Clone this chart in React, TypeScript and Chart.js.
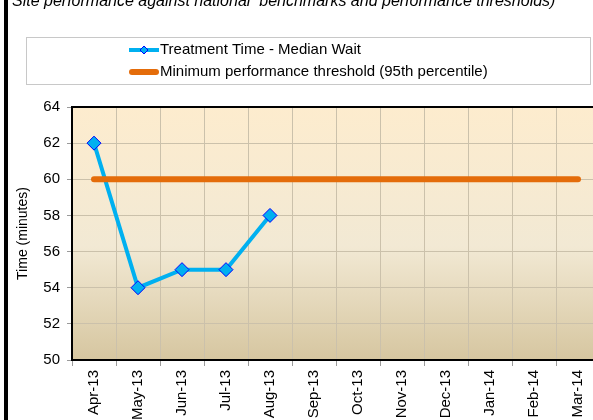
import React, { useEffect, useRef } from "react";
import { Chart, registerables } from "chart.js";

Chart.register(...registerables);

const categories = ["Apr-13", "May-13", "Jun-13", "Jul-13", "Aug-13", "Sep-13", "Oct-13", "Nov-13", "Dec-13", "Jan-14", "Feb-14", "Mar-14"];
const medianWait: (number | null)[] = [62, 54, 55, 55, 58, null, null, null, null, null, null, null];
const threshold = [60, 60, 60, 60, 60, 60, 60, 60, 60, 60, 60, 60];
const seriesNames = ["Treatment Time - Median Wait", "Minimum performance threshold (95th percentile)"];
const yTitle = "Time (minutes)";
const chartTitle = "Site performance against national  benchmarks and performance thresholds)";
const yMin = 50;
const yMax = 64;
const yStep = 2;

const FONT = 'Arial, "Liberation Sans", sans-serif';

const decor = {
  id: "decor",
  beforeDraw(chart: any) {
    const { ctx, chartArea: a } = chart;
    ctx.save();
    ctx.fillStyle = "#ffffff";
    ctx.fillRect(0, 0, chart.width, chart.height);
    const g = ctx.createLinearGradient(0, a.top, 0, a.bottom);
    g.addColorStop(0, "#fdecce");
    g.addColorStop(0.55, "#f2e9d4");
    g.addColorStop(1, "#d6c6a0");
    ctx.fillStyle = g;
    ctx.fillRect(a.left, a.top, a.right - a.left, a.bottom - a.top);
    ctx.restore();
  },
  afterDraw(chart: any) {
    const { ctx, chartArea: a } = chart;
    ctx.save();
    // plot top border
    ctx.strokeStyle = "#000";
    ctx.lineWidth = 2;
    ctx.beginPath();
    ctx.moveTo(a.left - 1, a.top);
    ctx.lineTo(a.right, a.top);
    ctx.stroke();
    // left black bar
    ctx.fillStyle = "#000";
    ctx.fillRect(4, 0, 4, chart.height);
    // clipped title
    ctx.font = "italic 16px " + FONT;
    ctx.fillStyle = "#000";
    ctx.textBaseline = "alphabetic";
    ctx.textAlign = "left";
    ctx.fillText(chartTitle, 12, 6);
    // legend box
    ctx.strokeStyle = "#c8c8c8";
    ctx.lineWidth = 1;
    ctx.strokeRect(26.5, 37.5, 564, 47);
    const ds = chart.data.datasets;
    const wait = ds[1];
    const thr = ds[0];
    // entry 1
    ctx.lineCap = "butt";
    ctx.strokeStyle = wait.borderColor;
    ctx.lineWidth = wait.borderWidth;
    ctx.beginPath();
    ctx.moveTo(129, 50);
    ctx.lineTo(159, 50);
    ctx.stroke();
    ctx.beginPath();
    ctx.moveTo(144 - 4, 50);
    ctx.lineTo(144, 46);
    ctx.lineTo(144 + 4, 50);
    ctx.lineTo(144, 54);
    ctx.closePath();
    ctx.fillStyle = wait.pointBackgroundColor;
    ctx.fill();
    ctx.strokeStyle = wait.pointBorderColor;
    ctx.lineWidth = 1;
    ctx.stroke();
    // entry 2
    ctx.lineCap = "round";
    ctx.strokeStyle = thr.borderColor;
    ctx.lineWidth = thr.borderWidth;
    ctx.beginPath();
    ctx.moveTo(132, 72);
    ctx.lineTo(156, 72);
    ctx.stroke();
    ctx.font = "15px " + FONT;
    ctx.fillStyle = "#000";
    ctx.textBaseline = "middle";
    ctx.fillText(wait.label, 160, 50);
    ctx.fillText(thr.label, 160, 72);
    ctx.restore();
  },
};

export default function App() {
  const ref = useRef<HTMLCanvasElement | null>(null);
  useEffect(() => {
    if (!ref.current) return;
    const font = { family: FONT, size: 15 };
    const titleFont = { family: FONT, size: 14 };
    const chart = new Chart(ref.current, {
      type: "line",
      data: {
        labels: categories,
        datasets: [
          {
            label: seriesNames[1],
            data: threshold,
            borderColor: "#e46c0a",
            borderWidth: 6,
            borderCapStyle: "round",
            pointRadius: 0,
            order: 1,
          },
          {
            label: seriesNames[0],
            data: medianWait,
            borderColor: "#00b0f0",
            borderWidth: 4,
            pointStyle: "rectRot",
            pointRadius: 7,
            pointBackgroundColor: "#00b0f0",
            pointBorderColor: "#0000ff",
            pointBorderWidth: 1,
            order: 2,
          },
        ] as any,
      },
      options: {
        animation: false,
        responsive: false,
        maintainAspectRatio: false,
        events: [],
        layout: { padding: { top: 107, left: 0, right: 10, bottom: 0 } },
        plugins: {
          legend: { display: false },
          title: { display: false },
          tooltip: { enabled: false },
        },
        scales: {
          x: {
            offset: true,
            grid: { offset: true, color: "#cbc1ab", lineWidth: 1, tickLength: 6, tickColor: "#9a9a9a" },
            border: { display: true, color: "#000", width: 2 },
            ticks: { minRotation: 90, maxRotation: 90, autoSkip: false, padding: 4, color: "#000", font },
            afterFit(s: any) {
              s.height = 60;
            },
          },
          y: {
            min: yMin,
            max: yMax,
            ticks: { stepSize: yStep, padding: 7, color: "#000", font },
            grid: { color: "#cbc1ab", lineWidth: 1, tickLength: 5, tickColor: "#9a9a9a" },
            border: { display: true, color: "#000", width: 2 },
            title: { display: true, text: yTitle, color: "#000", font: titleFont, padding: { top: 15, bottom: 0 } },
            afterFit(s: any) {
              s.width = 72;
            },
          },
        },
      } as any,
      plugins: [decor],
    });
    return () => chart.destroy();
  }, []);
  return (
    <div style={{ position: "fixed", top: 0, left: 0, width: 593, height: 420, overflow: "hidden", background: "#fff" }}>
      <canvas ref={ref} width={610} height={420} style={{ display: "block", width: 610, height: 420 }} />
    </div>
  );
}
